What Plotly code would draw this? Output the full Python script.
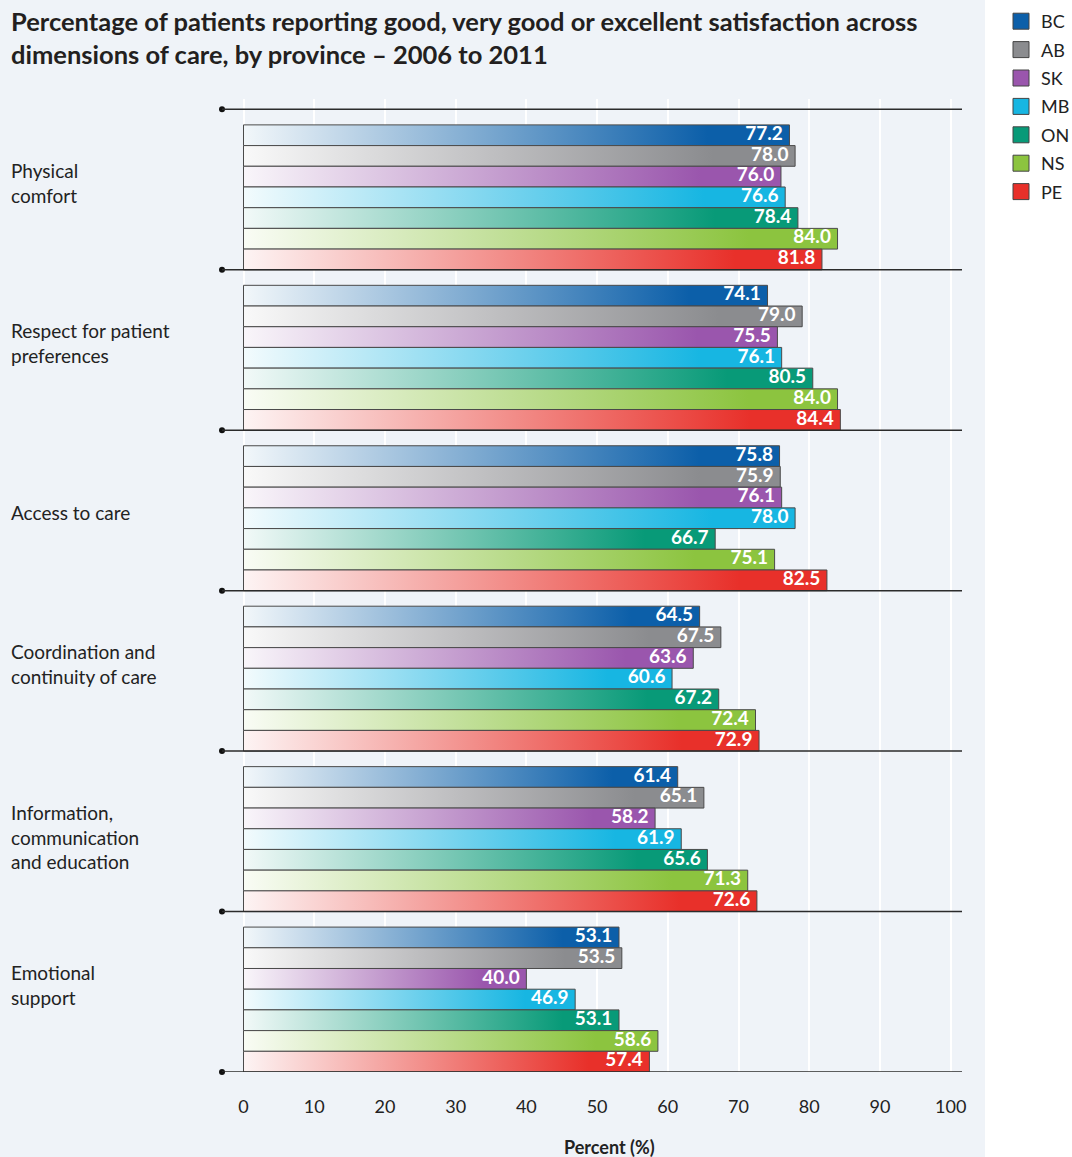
import plotly.graph_objects as go

# ---------------- data ----------------
dimensions = [
    "Physical<br>comfort",
    "Respect for patient<br>preferences",
    "Access to care",
    "Coordination and<br>continuity of care",
    "Information,<br>communication<br>and education",
    "Emotional<br>support",
]
provinces = ["BC", "AB", "SK", "MB", "ON", "NS", "PE"]
colors = ["#0c5fa9", "#8b8c8f", "#9a56ad", "#17b6e2", "#089a78", "#8cc43f", "#e8302a"]

bc = [77.2, 74.1, 75.8, 64.5, 61.4, 53.1]
ab = [78.0, 79.0, 75.9, 67.5, 65.1, 53.5]
sk = [76.0, 75.5, 76.1, 63.6, 58.2, 40.0]
mb = [76.6, 76.1, 78.0, 60.6, 61.9, 46.9]
on = [78.4, 80.5, 66.7, 67.2, 65.6, 53.1]
ns = [84.0, 84.0, 75.1, 72.4, 71.3, 58.6]
pe = [81.8, 84.4, 82.5, 72.9, 72.6, 57.4]
series = [bc, ab, sk, mb, on, ns, pe]

x_ticks = list(range(0, 101, 10))

title_text = ("<b>Percentage of patients reporting good, very good or excellent satisfaction across<br>"
              "dimensions of care, by province – 2006 to 2011</b>")
x_title = "Percent (%)"

# ---------------- layout helpers ----------------
FONT = "Lato, 'Open Sans', sans-serif"
BG = "#eff3f8"
GAP = 0.75                      # empty band above each group (bar units)
GROUP = len(provinces) + GAP    # height of a group in bar units
XMIN, XMAX = -3.04, 101.6
L, R, T, B = 222, 110, 99, 85
W, H = 1072, 1157
PW, PH = W - L - R, H - T - B


def px_to_paper_x(px):
    return (px - L) / PW


def px_to_paper_y(py):
    return (H - B - py) / PH


def mix(c, t):
    c = c.lstrip("#")
    r, g, b = int(c[0:2], 16), int(c[2:4], 16), int(c[4:6], 16)
    return "rgb(%d,%d,%d)" % (255 + (r - 255) * t, 255 + (g - 255) * t, 255 + (b - 255) * t)


fig = go.Figure()

label_x, label_y, label_t = [], [], []
for gi in range(len(dimensions)):
    for pi, prov in enumerate(provinces):
        v = series[pi][gi]
        top = gi * GROUP + GAP + pi
        bot = top + 1
        col = colors[pi]
        fig.add_trace(go.Scatter(
            x=[0, v, v, 0, 0], y=[top, top, bot, bot, top],
            mode="lines", fill="toself",
            line=dict(color="#4a4a4a", width=1),
            fillgradient=dict(type="horizontal",
                              colorscale=[[0, mix(col, 0.05)], [0.45, mix(col, 0.55)],
                                          [0.85, col], [1, col]]),
            showlegend=False, hoverinfo="skip",
        ))
        label_x.append(v)
        label_y.append(top + 0.5)
        label_t.append(f"{v:.1f}")

fig.add_trace(go.Scatter(
    x=label_x, y=label_y, text=label_t, mode="markers+text",
    marker=dict(size=9, color="rgba(0,0,0,0)"),
    textposition="middle left",
    textfont=dict(family=FONT, size=19, color="white", weight="bold"),
    showlegend=False, hoverinfo="skip",
))

# separators with dots
sep_y = [gi * GROUP for gi in range(len(dimensions) + 1)]
for yv in sep_y:
    fig.add_shape(type="line", xref="x", yref="y", x0=XMIN, x1=XMAX, y0=yv, y1=yv,
                  line=dict(color="#2b2b2b", width=1.5), layer="above")
fig.add_trace(go.Scatter(
    x=[XMIN] * len(sep_y), y=sep_y, mode="markers",
    marker=dict(size=6, color="#111111"), cliponaxis=False,
    showlegend=False, hoverinfo="skip",
))

# legend entries
for prov, col in zip(provinces, colors):
    fig.add_trace(go.Scatter(
        x=[None], y=[None], mode="markers", name=prov, legendgroup=prov,
        marker=dict(symbol="square", size=16, color=col, line=dict(color="#444444", width=1)),
    ))

# dimension labels
for gi, name in enumerate(dimensions):
    n_lines = name.count("<br>") + 1
    top_units = gi * GROUP + GAP
    shift = -32 - (21 if n_lines == 1 else 0)
    fig.add_annotation(
        text=name, xref="paper", x=px_to_paper_x(9), xanchor="left",
        yref="y", y=top_units, yanchor="top", yshift=shift,
        showarrow=False, align="left",
        font=dict(family=FONT, size=19, color="#222222"),
    )

# title
fig.add_annotation(
    text=title_text, xref="paper", x=px_to_paper_x(9), xanchor="left",
    yref="paper", y=px_to_paper_y(37), yanchor="middle",
    showarrow=False, align="left",
    font=dict(family=FONT, size=25.5, color="#231f20"),
)

fig.add_annotation(
    text="<b>" + x_title + "</b>", xref="x", x=51.8, yref="paper", y=px_to_paper_y(1147),
    yanchor="middle", showarrow=False,
    font=dict(family=FONT, size=18, color="#222222"),
)

# white legend area on the right
fig.add_shape(type="rect", xref="paper", yref="paper",
              x0=px_to_paper_x(985), x1=1.3, y0=-0.3, y1=1.3,
              fillcolor="white", line=dict(width=0), layer="below")

fig.update_layout(
    width=W, height=H,
    margin=dict(l=L, r=R, t=T, b=B, autoexpand=False),
    paper_bgcolor=BG, plot_bgcolor=BG,
    xaxis=dict(range=[XMIN, XMAX], tickvals=x_ticks, showgrid=True, gridcolor="white",
               gridwidth=2, zeroline=False, showline=False, ticks="",
               ticklabelstandoff=22,
               tickfont=dict(family=FONT, size=18, color="#222222")),
    yaxis=dict(range=[len(dimensions) * GROUP, -0.5], showgrid=False, zeroline=False,
               showticklabels=False, showline=False),
    legend=dict(x=px_to_paper_x(1001), xanchor="left", y=px_to_paper_y(3), yanchor="top",
                font=dict(family=FONT, size=18, color="#222222"),
                bgcolor="rgba(0,0,0,0)", traceorder="grouped", tracegroupgap=2),
    showlegend=True,
)

fig.write_html("out.html")
